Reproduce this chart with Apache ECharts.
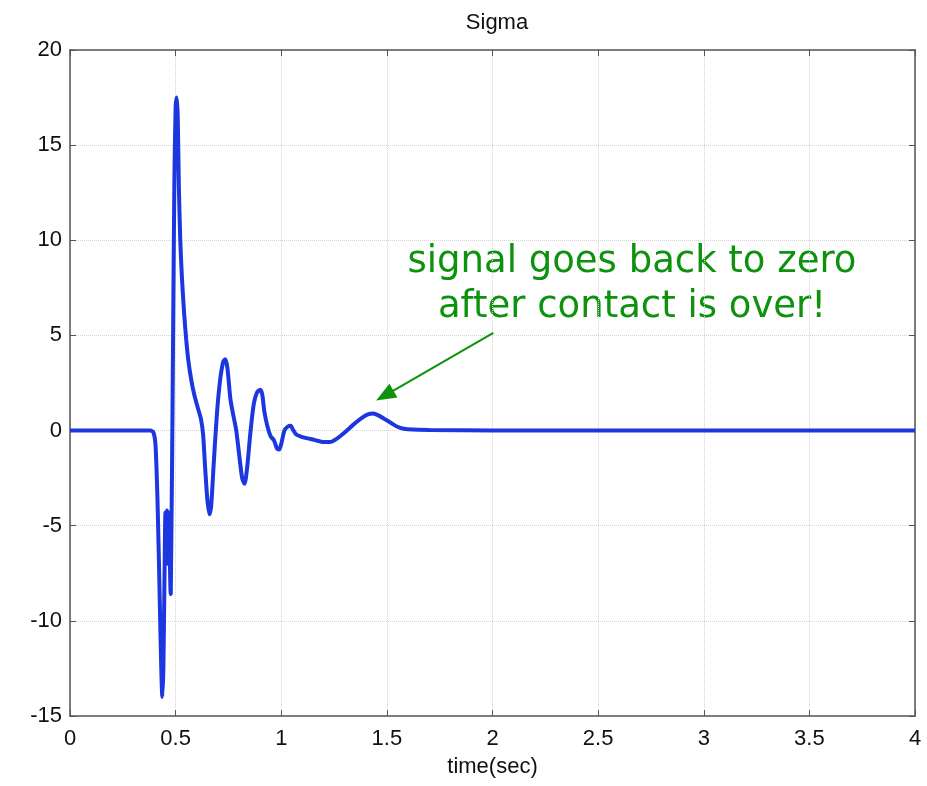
<!DOCTYPE html>
<html>
<head>
<meta charset="utf-8">
<script src="https://cdn.jsdelivr.net/npm/echarts@6/dist/echarts.min.js"></script>
<style>html,body{margin:0;padding:0;background:#fff}#c{width:927px;height:786px}</style>
</head>
<body>
<div id="c"></div>
<script>
var timeSec = [0, 0.38, 0.395, 0.405, 0.415, 0.425, 0.432, 0.437, 0.442, 0.447, 0.452, 0.456, 0.459, 0.463, 0.467, 0.472, 0.477, 0.480, 0.483, 0.488, 0.494, 0.500, 0.505, 0.510, 0.515, 0.522, 0.530, 0.540, 0.550, 0.560, 0.575, 0.590, 0.605, 0.620, 0.630, 0.640, 0.650, 0.660, 0.668, 0.680, 0.695, 0.710, 0.725, 0.735, 0.745, 0.760, 0.775, 0.787, 0.800, 0.815, 0.826, 0.838, 0.855, 0.870, 0.885, 0.900, 0.910, 0.920, 0.935, 0.950, 0.965, 0.980, 0.990, 1.000, 1.015, 1.030, 1.045, 1.055, 1.070, 1.090, 1.120, 1.160, 1.200, 1.230, 1.260, 1.300, 1.340, 1.380, 1.410, 1.435, 1.460, 1.490, 1.520, 1.550, 1.580, 1.620, 1.700, 2.000, 4.000];
var sigma = [0, 0, -0.1, -0.8, -4, -9, -12.5, -14.0, -12.5, -8, -4.3, -5.5, -4.2, -7, -4.3, -6.5, -8.6, -8.6, -2, 5, 13, 17.0, 17.5, 16.5, 13, 10, 8, 6.2, 4.8, 3.7, 2.6, 1.8, 1.2, 0.6, -0.2, -2, -3.6, -4.4, -4, -1.8, 0.8, 2.6, 3.6, 3.75, 3.3, 1.6, 0.7, 0, -1.2, -2.5, -2.8, -2.0, 0, 1.4, 2.0, 2.15, 1.9, 1.0, 0.2, -0.3, -0.5, -0.95, -1.0, -0.7, 0, 0.2, 0.25, 0.05, -0.2, -0.3, -0.4, -0.5, -0.6, -0.6, -0.45, -0.1, 0.3, 0.65, 0.85, 0.9, 0.8, 0.6, 0.4, 0.2, 0.1, 0.05, 0.03, 0.0, 0];
var xTicks = [0, 0.5, 1, 1.5, 2, 2.5, 3, 3.5, 4];
var yTicks = [-15, -10, -5, 0, 5, 10, 15, 20];
var arrowFrom = [2.004, 5.14];
var arrowTo = [1.49, 1.84];
var noteLines = ['signal goes back to zero', 'after contact is over!'];

var pts = timeSec.map(function (t, i) { return [t, sigma[i]]; });
var axisColor = '#555';
var font = 'Liberation Sans, Arial, sans-serif';

function xAx(pos, show) {
  return {
    type: 'value', position: pos, min: xTicks[0], max: xTicks[xTicks.length - 1], interval: 0.5,
    axisLine: { show: true, onZero: false, lineStyle: { color: axisColor, width: 1.5 } },
    axisTick: { show: true, inside: true, length: 6, lineStyle: { color: axisColor } },
    axisLabel: { show: show, color: '#111', fontSize: 22, fontFamily: font, margin: 12 },
    splitLine: { show: show, lineStyle: { color: '#d4d4d4', type: 'dotted', width: 1 } },
    name: show ? 'time(sec)' : '', nameLocation: 'middle', nameGap: 40,
    nameTextStyle: { color: '#111', fontSize: 22, fontFamily: font }
  };
}
function yAx(pos, show) {
  return {
    type: 'value', position: pos, min: yTicks[0], max: yTicks[yTicks.length - 1], interval: 5,
    axisLine: { show: true, onZero: false, lineStyle: { color: axisColor, width: 1.5 } },
    axisTick: { show: true, inside: true, length: 6, lineStyle: { color: axisColor } },
    axisLabel: { show: show, color: '#111', fontSize: 22, fontFamily: font, margin: 8 },
    splitLine: { show: show, lineStyle: { color: '#d4d4d4', type: 'dotted', width: 1 } }
  };
}

var chart = echarts.init(document.getElementById('c'), null, { renderer: 'canvas' });
chart.setOption({
  animation: false,
  backgroundColor: '#fff',
  title: { text: 'Sigma', left: 492, textAlign: 'center', top: 7,
    textStyle: { fontSize: 22, fontWeight: 'normal', color: '#111', fontFamily: font } },
  grid: { left: 70, right: 12, top: 50, bottom: 70, containLabel: false },
  xAxis: [xAx('bottom', true), xAx('top', false)],
  yAxis: [yAx('left', true), yAx('right', false)],
  series: [{
    type: 'line', data: pts, xAxisIndex: 0, yAxisIndex: 0,
    showSymbol: false, smooth: 0.25,
    lineStyle: { color: '#1c36e0', width: 4 },
    markLine: {
      silent: true, animation: false,
      symbol: ['none', 'triangle'], symbolSize: [16, 20],
      label: { show: false },
      lineStyle: { color: '#0d920d', width: 2, type: 'solid' },
      data: [[{ coord: arrowFrom }, { coord: arrowTo }]]
    }
  }],
  graphic: noteLines.map(function (s, i) {
    return {
      type: 'text', x: 632, y: 262 + i * 45,
      style: { text: s, fill: '#0d920d', font: '37px "DejaVu Sans", sans-serif',
        align: 'center', verticalAlign: 'middle' }
    };
  })
});
</script>
</body>
</html>
